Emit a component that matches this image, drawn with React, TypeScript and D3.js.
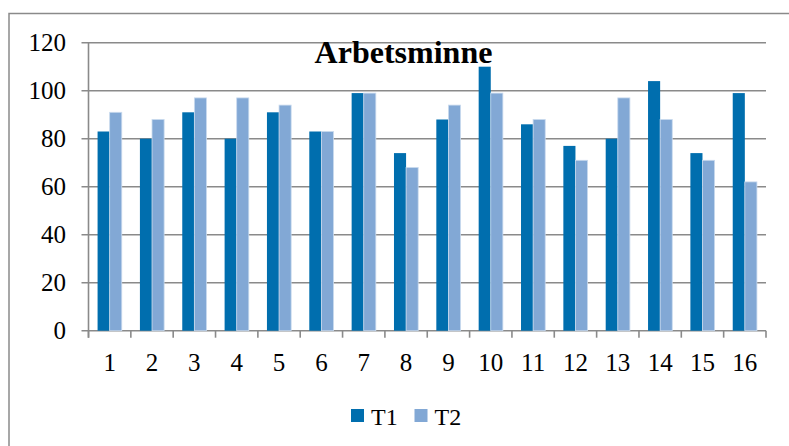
import React from "react";
import * as d3 from "d3";

const categories = ["1","2","3","4","5","6","7","8","9","10","11","12","13","14","15","16"];
const seriesNames = ["T1", "T2"];
const t1Values = [83, 80, 91, 80, 91, 83, 99, 74, 88, 110, 86, 77, 80, 104, 74, 99];
const t2Values = [91, 88, 97, 97, 94, 83, 99, 68, 94, 99, 88, 71, 97, 88, 71, 62];
const yTicks = [0, 20, 40, 60, 80, 100, 120];
const title = "Arbetsminne";

const W = 789;
const H = 446;
const colors = ["#006EAE", "#82A8D5"];
const strokes = ["none", "#C9DAEE"];
const font = '"Liberation Serif", "Times New Roman", Times, "DejaVu Serif", serif';

export default function App() {
  const left = 88.5;
  const right = 766;
  const top = 42.7;
  const bottom = 330.7;

  const x0 = d3.scaleBand<string>().domain(categories).range([left, right]).padding(0);
  const x1 = d3
    .scaleBand<string>()
    .domain(seriesNames)
    .range([0, x0.bandwidth()])
    .paddingInner(0)
    .paddingOuter(0.75);
  const y = d3.scaleLinear().domain([0, 120]).range([bottom, top]);

  const series = [t1Values, t2Values];
  const boundaries = categories.map((c) => x0(c) as number).concat([right]);
  const ts = { fontFamily: font };

  return (
    <svg
      width={W}
      height={H}
      style={{ position: "absolute", left: 0, top: 0, background: "#fff", fontFamily: font }}
    >
      <rect x={0} y={0} width={W} height={H} fill="#fff" />
      <rect x={9} y={13.5} width={W + 20} height={H + 20} fill="none" stroke="#8a8a8a" strokeWidth={1.5} />

      {yTicks.map((t) => (
        <line key={"g" + t} x1={left - 7} x2={right} y1={y(t)} y2={y(t)} stroke="#8a8a8a" strokeWidth={1.6} />
      ))}
      <line x1={left} x2={left} y1={top} y2={bottom + 7} stroke="#8a8a8a" strokeWidth={1.6} />
      {boundaries.map((b, i) => (
        <line key={"xt" + i} x1={b} x2={b} y1={bottom} y2={bottom + 7} stroke="#8a8a8a" strokeWidth={1.6} />
      ))}

      {series.map((vals, si) =>
        vals.map((v, i) => (
          <rect
            key={seriesNames[si] + i}
            x={(x0(categories[i]) as number) + (x1(seriesNames[si]) as number)}
            y={y(v)}
            width={x1.bandwidth()}
            height={bottom - y(v)}
            fill={colors[si]}
            stroke={strokes[si]}
            strokeWidth={si === 1 ? 0.8 : 0}
          />
        ))
      )}

      {yTicks.map((t) => (
        <text key={"yl" + t} x={66} y={y(t)} dy="0.34em" textAnchor="end" fontSize={25} fill="#000" style={ts}>
          {t}
        </text>
      ))}
      {categories.map((c) => (
        <text
          key={"xl" + c}
          x={(x0(c) as number) + x0.bandwidth() / 2}
          y={371}
          textAnchor="middle"
          fontSize={25}
          fill="#000"
          style={ts}
        >
          {c}
        </text>
      ))}

      <text x={403.5} y={63.3} textAnchor="middle" fontSize={32} fontWeight="bold" fill="#000" style={ts}>
        {title}
      </text>

      {seriesNames.map((s, i) => {
        const lx = i === 0 ? 351 : 414.5;
        return (
          <g key={"lg" + s}>
            <rect x={lx} y={409} width={13} height={13} fill={colors[i]} />
            <text x={lx + 20} y={424.5} fontSize={24} fill="#000" style={ts}>
              {s}
            </text>
          </g>
        );
      })}
    </svg>
  );
}
